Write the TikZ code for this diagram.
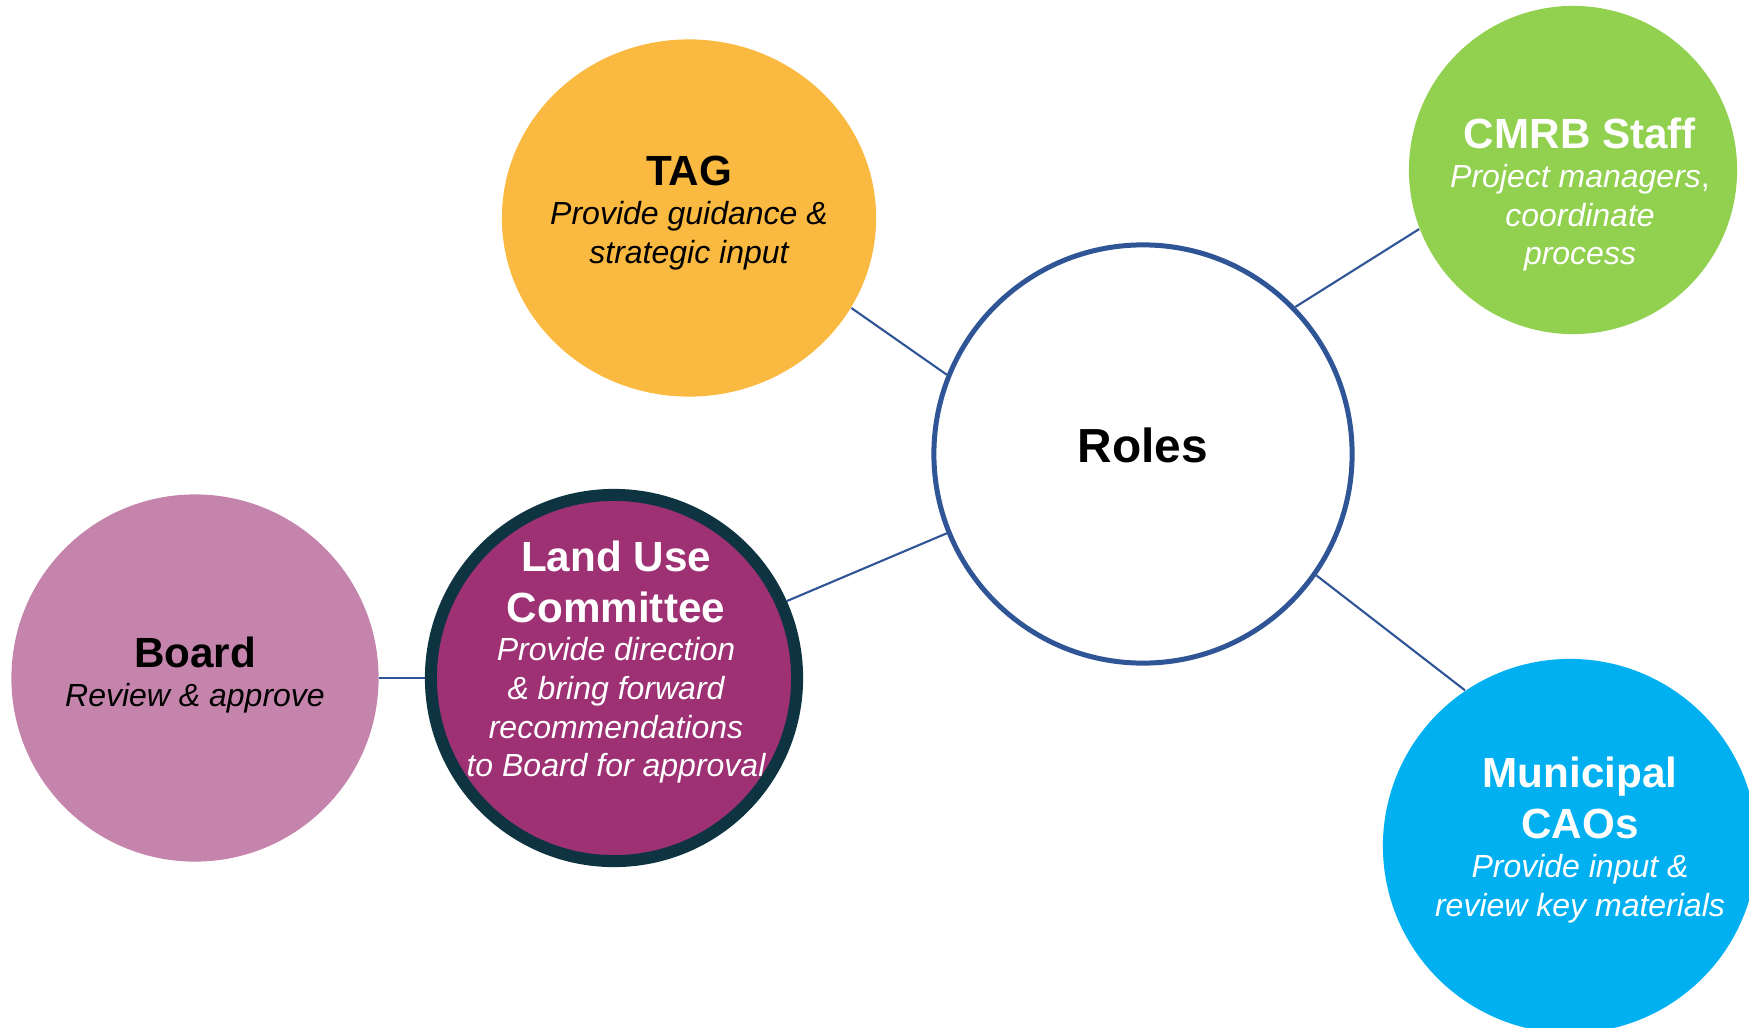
\documentclass[tikz,border=0pt]{standalone}
\usepackage{fontspec}
\setmainfont{Liberation Sans}
\usepackage{tikz}
\usetikzlibrary{shapes.geometric}

\definecolor{rolesblue}{HTML}{2F5597}
\definecolor{tagorange}{HTML}{FAB940}
\definecolor{staffgreen}{HTML}{92D050}
\definecolor{caoblue}{HTML}{00B0F0}
\definecolor{lucpurple}{HTML}{9D3173}
\definecolor{lucedge}{HTML}{0D3440}
\definecolor{boardpink}{HTML}{C584AB}

\newcommand{\hd}[1]{{\fontsize{12}{14.2}\selectfont\bfseries\upshape #1}}

\begin{document}
\begin{tikzpicture}[x=0.01cm, y=-0.01cm,
    bubble/.style={circle, inner sep=0pt},
    note/.style={align=center, inner sep=0pt, font=\fontsize{9.1}{11}\selectfont\itshape},
    link/.style={rolesblue, line width=0.6pt}]

    \clip (0,0) rectangle (1749,1027); % Keeps the page size of the picture

    \node[bubble, draw=rolesblue, line width=0.05cm, fill=white, minimum size=4.18cm] (roles) at (1143,454) {};
    \node[font=\fontsize{13.6}{15}\selectfont\bfseries] (roles-t) at (1143,445) {Roles};

    \node[ellipse, fill=tagorange, inner sep=0pt, minimum width=3.74cm, minimum height=3.57cm] (tag) at (689,218) {};
    \node[note] (tag-t) at (689,213) {\hd{TAG}\\ Provide guidance \&\\ strategic input};

    \node[bubble, fill=staffgreen, minimum size=3.28cm] (staff) at (1573,170) {};
    \node[note, white] (staff-t) at (1580,195) {\hd{CMRB Staff}\\ Project managers\textup{,}\\ coordinate\\ process};

    \node[bubble, fill=caoblue, minimum size=3.74cm] (cao) at (1570,846) {};
    \node[note, white] (cao-t) at (1580,840) {\hd{Municipal}\\[3.5pt] \hd{CAOs}\\ Provide input \&\\ review key materials};

    \node[bubble, draw=lucedge, line width=0.12cm, fill=lucpurple, minimum size=3.66cm] (luc) at (614,678) {};
    \node[note, white] (luc-t) at (616,662) {\hd{Land Use}\\[3.5pt] \hd{Committee}\\ Provide direction\\ \& bring forward\\ recommendations\\ to Board for approval};

    \node[bubble, fill=boardpink, minimum size=3.67cm] (board) at (195,678) {};
    \node[note] (board-t) at (195,675) {\hd{Board}\\ Review \& approve};

    % connectors to the centre circle
    \draw[link] (tag.-29) -- (roles.158);
    \draw[link] (roles.44) -- (staff.201);
    \draw[link] (roles.-35) -- (cao.124);
    \draw[link] (roles.202) -- (luc.24);
    \draw[link] (board.east) -- (luc.west);
\end{tikzpicture}
\end{document}
